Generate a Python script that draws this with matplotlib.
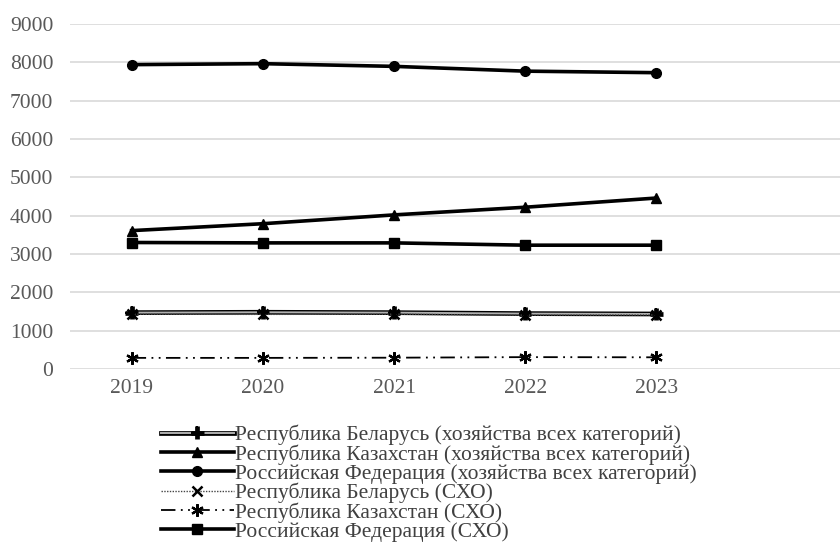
import matplotlib.pyplot as plt
import matplotlib.patheffects as pe

plt.rcParams['font.family'] = ['Liberation Serif', 'DejaVu Serif']

years = ['2019', '2020', '2021', '2022', '2023']

by_total = [1470, 1480, 1470, 1445, 1435]
kz_total = [3610, 3790, 4020, 4220, 4460]
ru_total = [7940, 7965, 7895, 7770, 7730]
by_sho = [1430, 1425, 1430, 1405, 1410]
kz_sho = [290, 290, 295, 310, 305]
ru_sho = [3300, 3290, 3290, 3230, 3230]

labels = ['Республика Беларусь (хозяйства всех категорий)',
          'Республика Казахстан (хозяйства всех категорий)',
          'Российская Федерация (хозяйства всех категорий)',
          'Республика Беларусь (СХО)',
          'Республика Казахстан (СХО)',
          'Российская Федерация (СХО)']

fig = plt.figure(figsize=(8.4, 5.45), dpi=100)
ax = fig.add_axes([70/840, 1-369/545, 1-70/840, 345/545])

x = list(range(len(years)))

# двойная линия для Беларуси (все категории)
ax.plot(x, by_total, color='#b0b0b0', lw=1.4, marker='+', ms=9, mec='black', mew=1.5,
        path_effects=[pe.Stroke(linewidth=3.4, foreground='black'), pe.Normal()],
        label=labels[0])
ax.plot(x, kz_total, color='black', lw=2.6, marker='^', ms=7, label=labels[1])
ax.plot(x, ru_total, color='black', lw=2.6, marker='o', ms=7, label=labels[2])
ax.plot(x, by_sho, color='#444444', lw=1.0, ls=(0, (1, 1)), marker='x', ms=7, mec='black', mew=1.8,
        label=labels[3])
ax.plot(x, kz_sho, color='black', lw=1.3, ls=(0, (8, 3, 1, 3, 1, 3)), marker=(6, 2, 0), ms=9,
        mec='black', mew=1.6, label=labels[4])
ax.plot(x, ru_sho, color='black', lw=2.6, marker='s', ms=7, label=labels[5])

ax.set_ylim(0, 9000)
ax.set_yticks(range(0, 9001, 1000))
ax.set_xlim(-0.47, 5.4)
ax.set_xticks(x)
ax.set_xticklabels(years)
ax.grid(axis='y', color='#d9d9d9', lw=1.2)
ax.set_axisbelow(True)
for s in ax.spines.values():
    s.set_visible(False)
ax.tick_params(length=0, labelsize=15.5, labelcolor='#595959', pad=7)
ax.tick_params(axis='y', pad=12)

leg = fig.legend(loc='upper left', bbox_to_anchor=(150/840, 1-414/545), frameon=False,
                 fontsize=15.5, handlelength=3.4, labelspacing=-0.05, handletextpad=0.05,
                 borderpad=0)
for t in leg.get_texts():
    t.set_color('#404040')

fig.savefig('out.png', dpi=100)
